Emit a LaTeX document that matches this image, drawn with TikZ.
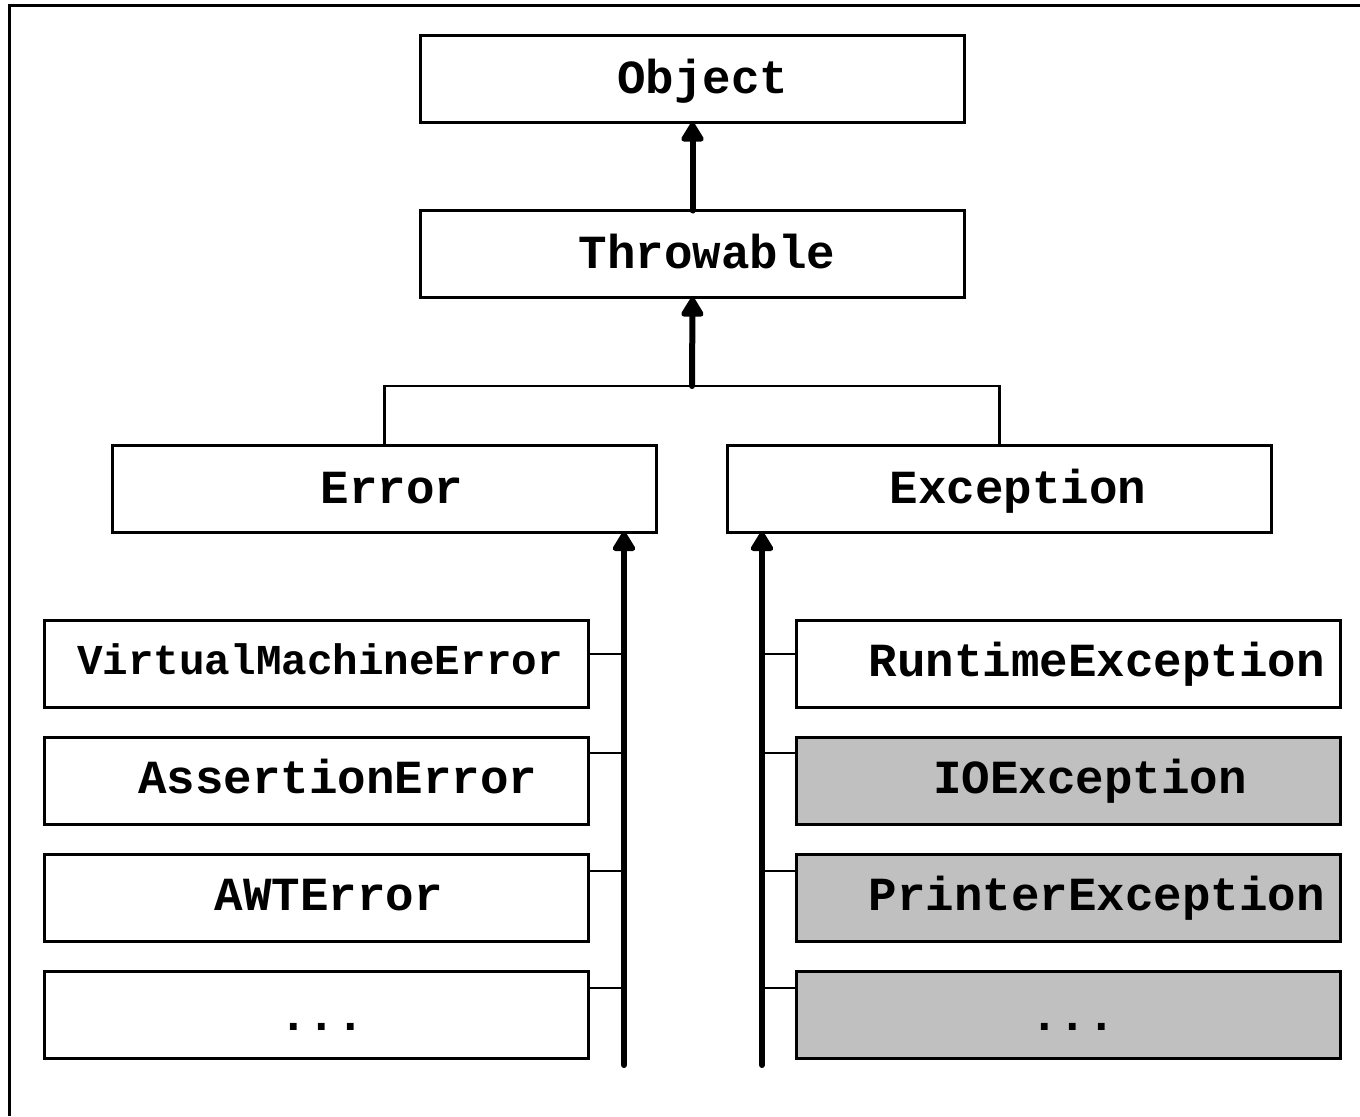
\documentclass[tikz,border=0pt]{standalone}
\usepackage{fontspec}
\setmonofont{Liberation Mono}
\usetikzlibrary{arrows.meta,calc}
\definecolor{boxgray}{HTML}{C0C0C0}
\begin{document}
\begin{tikzpicture}[x=0.5pt,y=-0.5pt,
  box/.style={draw=black,line width=1.5pt,minimum width=272pt,minimum height=43.5pt,inner sep=0pt,outer sep=0pt},
  graybox/.style={box,fill=boxgray},
  lbl/.style={font=\fontsize{23.75}{28}\selectfont\ttfamily\bfseries,inner sep=0pt,anchor=base},
  small/.style={font=\fontsize{21.3}{26}\selectfont\ttfamily\bfseries,inner sep=0pt,anchor=base},
  thick arrow/.style={line width=3pt,line cap=round,-{Triangle[length=11pt,width=12.5pt,round]}},
  thin line/.style={line width=1.2pt},
  frame/.style={line width=1.5pt}]
\useasboundingbox (0,0) rectangle (1360,1116);
% frame
\draw[frame] (9,1116) -- (9,5) -- (1362,5);
% boxes
\node[box] (obj) at (692.5,79) {};
\node[box] (thr) at (692.5,254) {};
\node[box] (err) at (384.5,488.5) {};
\node[box] (exc) at (999.5,488.5) {};
\node[box] (l1) at (316.5,663.5) {};
\node[box] (l2) at (316.5,780.5) {};
\node[box] (l3) at (316.5,897.5) {};
\node[box] (l4) at (316.5,1014.5) {};
\node[box] (r1) at (1068.5,663.5) {};
\node[graybox] (r2) at (1068.5,780.5) {};
\node[graybox] (r3) at (1068.5,897.5) {};
\node[graybox] (r4) at (1068.5,1014.5) {};
% labels
\node[lbl] (tobj) at (703,93) {Object};
\node[lbl] (tthr) at (707,268) {Throwable};
\node[lbl] (terr) at (392,503) {Error};
\node[lbl] (texc) at (1018,503) {Exception};
\node[small] (tl1) at (320,674) {VirtualMachineError};
\node[lbl] (tl2) at (338,793) {AssertionError};
\node[lbl] (tl3) at (329,910) {AWTError};
\node[lbl] (tl4) at (322,1030) {...};
\node[lbl] (tr1) at (1097,676) {RuntimeException};
\node[lbl] (tr2) at (1090,793) {IOException};
\node[lbl] (tr3) at (1097,910) {PrinterException};
\node[lbl] (tr4) at (1073,1030) {...};
% tree
\coordinate (j) at (692,386);
\draw[thin line] (err.north) -- (err.north |- j) -- (exc.north |- j) -- (exc.north);
\draw[thick arrow] (j) -- (thr.south);
\draw[thick arrow] (thr.north) -- (obj.south);
\coordinate (lb) at (624,1065);
\coordinate (rb) at (762,1065);
\draw[thick arrow] (lb) -- (lb |- err.south);
\draw[thick arrow] (rb) -- (rb |- exc.south);
% stubs
\draw[thin line] ($(l1.north east)+(0,34)$) -- ++(34,0);
\draw[thin line] ($(l2.north east)+(0,16)$) -- ++(34,0);
\draw[thin line] ($(l3.north east)+(0,17)$) -- ++(34,0);
\draw[thin line] ($(l4.north east)+(0,17)$) -- ++(34,0);
\draw[thin line] ($(r1.north west)+(0,34)$) -- ++(-33,0);
\draw[thin line] ($(r2.north west)+(0,16)$) -- ++(-33,0);
\draw[thin line] ($(r3.north west)+(0,17)$) -- ++(-33,0);
\draw[thin line] ($(r4.north west)+(0,17)$) -- ++(-33,0);
\end{tikzpicture}
\end{document}
